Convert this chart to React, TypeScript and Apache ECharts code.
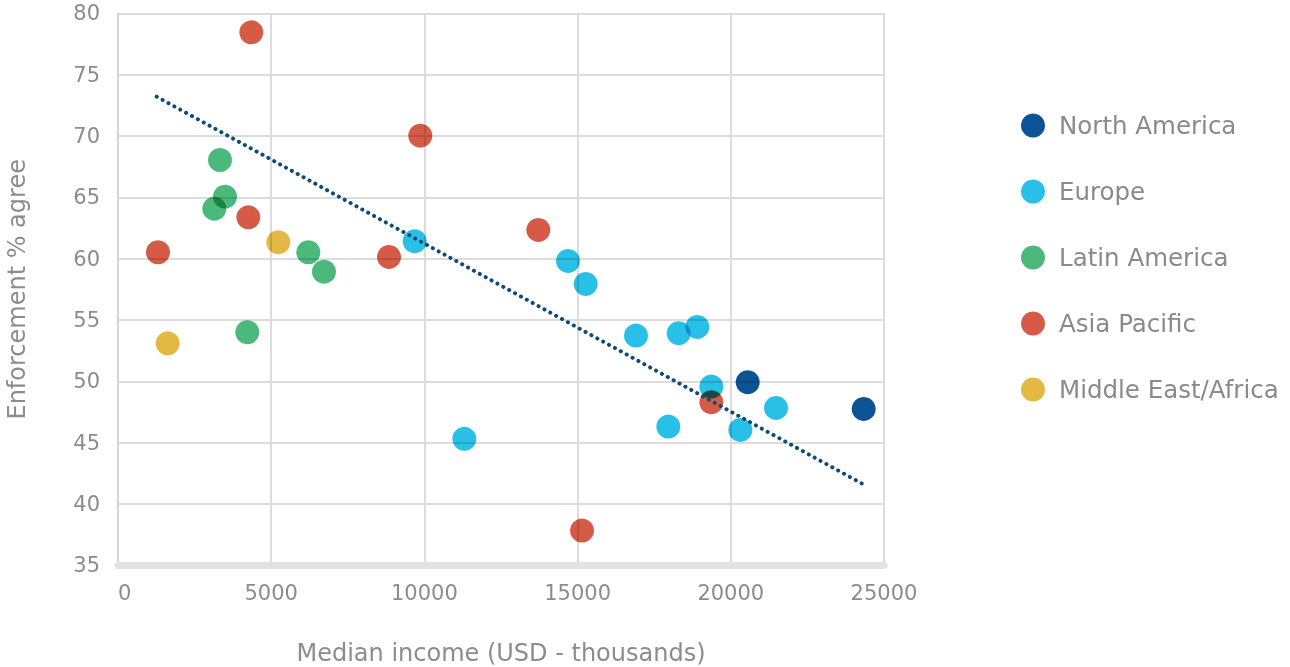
import React, { useEffect, useRef } from "react";
import * as echarts from "echarts";

const seriesNames = ["North America", "Europe", "Latin America", "Asia Pacific", "Middle East/Africa"];
const seriesColors = ["#0b5394", "#29c0e8", "#4cb97c", "#d65b46", "#e3b843"];

const northAmerica: number[][] = [
  [20551, 49.93],
  [24337, 47.75],
];
const europe: number[][] = [
  [9683, 61.42],
  [11303, 45.31],
  [14687, 59.81],
  [15264, 57.94],
  [16906, 53.73],
  [18299, 53.92],
  [18907, 54.43],
  [19364, 49.57],
  [21475, 47.83],
  [17961, 46.31],
  [20311, 46.04],
];
const latinAmerica: number[][] = [
  [3329, 68.04],
  [3492, 65.05],
  [3143, 64.07],
  [6211, 60.52],
  [6723, 58.94],
  [4220, 54.0],
];
const asiaPacific: number[][] = [
  [4351, 78.45],
  [9866, 70.02],
  [4253, 63.37],
  [1305, 60.52],
  [8845, 60.14],
  [13718, 62.34],
  [19364, 48.3],
  [15144, 37.83],
];
const middleEastAfrica: number[][] = [
  [5232, 61.34],
  [1622, 53.1],
];
const trendLine: number[][] = [
  [1263, 73.2],
  [24325, 41.6],
];

const xAxisTitle = "Median income (USD - thousands)";
const yAxisTitle = "Enforcement % agree";

const allSeries = [northAmerica, europe, latinAmerica, asiaPacific, middleEastAfrica];

const blendCss = seriesColors
  .map((c) => `.chart-root svg path[fill="${c}"]{mix-blend-mode:multiply;}`)
  .join("\n");

export default function App() {
  const ref = useRef<HTMLDivElement>(null);
  useEffect(() => {
    if (!ref.current) return;
    const chart = echarts.init(ref.current, null, { renderer: "svg" });
    const font = "DejaVu Sans";
    const grey = "#8c8c8c";
    const option: any = {
      animation: false,
      textStyle: { fontFamily: font },
      grid: {
        left: 118,
        right: 406,
        top: 13.3,
        bottom: 101.7,
        containLabel: false,
        outerBoundsMode: "none",
      },
      legend: {
        orient: "vertical",
        left: 1016,
        top: 108,
        itemWidth: 24,
        itemHeight: 24,
        itemGap: 41,
        icon: "circle",
        data: seriesNames,
        textStyle: {
          fontFamily: font,
          fontSize: 24.5,
          color: "#8a8a8a",
          lineHeight: 24,
          padding: [0, 0, 0, 9],
        },
      },
      xAxis: {
        type: "value",
        min: 0,
        max: 25000,
        interval: 5000,
        name: xAxisTitle,
        nameLocation: "middle",
        nameGap: 77,
        nameTextStyle: { fontFamily: font, fontSize: 24, color: grey, lineHeight: 22 },
        axisLine: { show: true, lineStyle: { color: "#e1e2e4", width: 7 } },
        axisTick: { show: false },
        axisLabel: {
          fontFamily: font,
          fontSize: 21,
          color: grey,
          margin: 17,
          alignMinLabel: "left",
          formatter: (v: number) => String(v),
        },
        splitLine: { show: true, lineStyle: { color: "#dcdcdc", width: 2 } },
      },
      yAxis: {
        type: "value",
        min: 35,
        max: 80,
        interval: 5,
        name: yAxisTitle,
        nameLocation: "middle",
        nameGap: 89,
        nameRotate: 90,
        nameTextStyle: { fontFamily: font, fontSize: 24, color: grey },
        axisLine: { show: true, lineStyle: { color: "#d6d6d6", width: 2 } },
        axisTick: { show: false },
        axisLabel: { fontFamily: font, fontSize: 21, color: grey, margin: 18 },
        splitLine: { show: true, lineStyle: { color: "#dcdcdc", width: 2 } },
      },
      series: [
        ...allSeries.map((d, i) => ({
          name: seriesNames[i],
          type: "scatter",
          data: d,
          symbol: "circle",
          symbolSize: 24,
          itemStyle: { color: seriesColors[i], opacity: 1 },
        })),
        {
          name: "Trend",
          type: "line",
          data: trendLine,
          symbol: "none",
          silent: true,
          lineStyle: { color: "#0f4c75", width: 4, type: [0.1, 6.6], cap: "round" },
          z: 3,
        },
      ],
    };
    chart.setOption(option);
    return () => chart.dispose();
  }, []);
  return (
    <>
      <style>{blendCss}</style>
      <div
        ref={ref}
        className="chart-root"
        style={{ position: "absolute", left: 0, top: 0, width: 1290, height: 667, background: "#fff" }}
      />
    </>
  );
}
